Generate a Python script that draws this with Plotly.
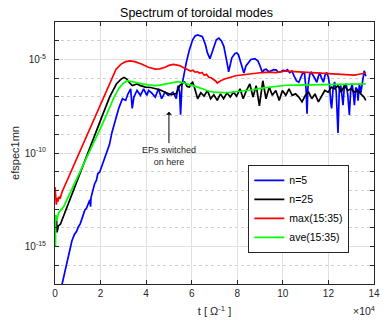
import plotly.graph_objects as go

# time in units of 1e4 Omega^-1 ; values as log10(efspec1mn)
t_n5 = [0.2, 0.31, 0.38, 0.45, 0.52, 0.6, 0.67, 0.74, 0.85, 0.95, 1.02, 1.1, 1.17, 1.25, 1.31, 1.38,
        1.45, 1.5, 1.53, 1.56, 1.58, 1.65, 1.74, 1.82, 1.88, 1.96, 2.05, 2.17, 2.28, 2.39, 2.5, 2.6,
        2.68, 2.8, 2.96, 3.1, 3.2, 3.32, 3.39, 3.46, 3.6, 3.75, 3.89, 4.03, 4.11, 4.25, 4.4, 4.54,
        4.68, 4.83, 4.97, 5.18, 5.32, 5.4, 5.47, 5.51, 5.57, 5.65, 5.76, 5.9, 6.04, 6.15, 6.26, 6.47,
        6.6, 6.69, 6.8, 6.9, 6.98, 7.08, 7.19, 7.3, 7.41, 7.5, 7.55, 7.62, 7.7, 7.76, 7.9, 7.98,
        8.05, 8.12, 8.22, 8.29, 8.38, 8.48, 8.6, 8.77, 8.91, 9.0, 9.1, 9.18, 9.27, 9.38, 9.48, 9.6,
        9.7, 9.8, 9.91, 10.0, 10.13, 10.2, 10.3, 10.4, 10.5, 10.6, 10.7, 10.8, 10.88, 10.95, 11.02,
        11.06, 11.1, 11.18, 11.25, 11.35, 11.42, 11.49, 11.56, 11.62, 11.7, 11.78, 11.85, 11.92,
        12.0, 12.05, 12.1, 12.14, 12.2, 12.27, 12.34, 12.42, 12.48, 12.54, 12.6, 12.64, 12.7, 12.78,
        12.85, 12.92, 12.98, 13.04, 13.1, 13.14, 13.2, 13.26, 13.3, 13.36, 13.42, 13.48, 13.53,
        13.57, 13.64]
n5_log = [-17.6, -17.0, -16.5, -16.27, -15.9, -15.3, -15.05, -14.7, -14.35, -14.18, -13.95, -13.8,
          -13.56, -13.3, -13.04, -12.95, -12.7, -12.6, -12.5, -12.87, -12.4, -12.05, -11.64, -11.45,
          -11.1, -11.03, -10.7, -10.24, -9.9, -9.55, -8.9, -8.5, -8.1, -7.6, -7.1, -7.19, -6.85,
          -6.57, -7.62, -7.01, -6.66, -6.92, -6.57, -6.92, -6.66, -6.8, -7.01, -6.57, -7.1, -6.75,
          -6.92, -6.75, -7.1, -6.4, -6.75, -7.95, -6.4, -5.8, -5.17, -4.48, -3.95, -3.75, -3.69,
          -3.78, -4.2, -4.65, -4.96, -4.6, -4.3, -3.95, -3.86, -4.0, -4.3, -4.8, -5.17, -5.66, -5.2,
          -4.91, -4.68, -4.65, -4.75, -5.0, -5.4, -5.73, -5.35, -5.17, -5.0, -4.96, -5.09, -5.35,
          -5.7, -5.55, -5.52, -5.66, -5.61, -5.55, -5.56, -5.68, -5.66, -5.58, -5.61, -5.55, -5.7,
          -5.62, -5.9, -6.15, -6.22, -5.95, -5.7, -5.75, -6.6, -7.9, -6.5, -5.8, -5.7, -5.9, -6.1,
          -6.22, -5.9, -5.72, -6.0, -6.22, -5.85, -5.7, -5.95, -6.4, -7.3, -7.62, -6.6, -6.2, -6.7,
          -8.93, -6.5, -6.4, -7.0, -7.45, -6.4, -6.3, -6.9, -7.97, -6.6, -6.3, -6.9, -7.45, -6.5,
          -6.6, -7.2, -6.3, -6.8, -6.2, -5.8, -5.61, -5.9]

t_n25 = [0.07, 0.09, 0.15, 0.24, 2.03, 2.4, 2.7, 2.9, 3.03, 3.15, 3.25, 3.39, 3.5, 3.6, 3.75, 3.97,
         4.2, 4.4, 4.6, 4.83, 5.0, 5.11, 5.2, 5.32, 5.4, 5.47, 5.57, 5.69, 5.8, 5.9, 5.97, 6.04,
         6.12, 6.26, 6.4, 6.54, 6.69, 6.83, 6.97, 7.12, 7.26, 7.4, 7.55, 7.69, 7.83, 7.97, 8.12,
         8.26, 8.4, 8.55, 8.69, 8.83, 8.97, 9.12, 9.26, 9.4, 9.54, 9.69, 9.84, 9.98, 10.13, 10.27,
         10.41, 10.56, 10.7, 10.84, 10.99, 11.13, 11.27, 11.41, 11.56, 11.7, 11.84, 11.99, 12.13,
         12.27, 12.42, 12.56, 12.7, 12.85, 12.99, 13.13, 13.28, 13.42, 13.56, 13.64]
n25_log = [-13.6, -14.24, -13.9, -13.8, -8.15, -7.0, -6.3, -6.05, -5.96, -6.05, -6.22, -6.4, -6.35,
           -6.31, -6.4, -6.48, -6.5, -6.54, -6.62, -6.75, -6.85, -6.89, -6.85, -6.83, -6.6, -6.4,
           -6.3, -6.22, -6.45, -6.48, -6.3, -6.22, -6.5, -7.1, -6.78, -6.96, -6.66, -7.1, -6.89,
           -7.19, -6.84, -7.1, -6.78, -7.01, -6.75, -6.96, -6.57, -7.1, -6.66, -6.31, -7.01, -6.4,
           -7.48, -6.14, -7.1, -6.48, -6.92, -6.66, -7.19, -6.66, -6.92, -6.57, -6.92, -6.84, -7.01,
           -7.27, -6.92, -6.75, -7.1, -6.84, -7.27, -6.92, -6.66, -6.75, -6.48, -6.57, -6.4, -6.75,
           -6.4, -6.66, -6.57, -6.75, -6.66, -6.84, -7.01, -7.19]

t_max = [0.0, 0.06, 0.1, 0.13, 0.16, 0.22, 0.31, 2.4, 2.68, 2.9, 3.1, 3.3, 3.5, 3.82, 4.1, 4.4,
         4.6, 4.83, 5.0, 5.2, 5.47, 5.65, 5.83, 5.95, 6.05, 6.15, 6.26, 6.35, 6.45, 6.55, 6.65,
         6.75, 6.85, 6.95, 7.05, 7.12, 7.2, 7.3, 7.41, 7.55, 7.69, 7.85, 8.0, 8.12, 8.3, 8.5, 8.7,
         8.9, 9.1, 9.41, 9.7, 10.13, 10.42, 10.8, 11.13, 11.5, 11.85, 12.2, 12.57, 12.9, 13.14,
         13.4, 13.64]
max_log = [-11.82, -12.76, -12.4, -12.6, -12.34, -12.45, -12.08, -6.3, -5.52, -5.25, -5.12, -5.08,
           -5.12, -5.26, -5.42, -5.52, -5.5, -5.42, -5.32, -5.27, -5.33, -5.45, -5.55, -5.62,
           -5.58, -5.68, -5.66, -5.74, -5.7, -5.85, -5.8, -5.95, -5.98, -6.05, -6.15, -6.26, -6.18,
           -6.12, -6.06, -6.0, -5.95, -5.9, -5.86, -5.84, -5.82, -5.76, -5.73, -5.72, -5.7, -5.68,
           -5.7, -5.62, -5.64, -5.66, -5.7, -5.72, -5.74, -5.74, -5.78, -5.8, -5.84, -5.78, -5.73]

t_ave = [0.02, 0.03, 0.08, 0.16, 0.25, 0.38, 2.14, 2.6, 2.8, 3.0, 3.18, 3.39, 3.6, 3.82, 4.1, 4.4,
         4.6, 4.83, 5.1, 5.4, 5.6, 5.83, 6.05, 6.26, 6.5, 6.75, 6.98, 7.25, 7.55, 7.85, 8.12, 8.4,
         8.7, 9.0, 9.41, 9.7, 10.13, 10.6, 11.13, 11.8, 12.5, 13.1, 13.64]
ave_log = [-14.97, -13.3, -13.6, -13.2, -13.05, -12.87, -8.3, -7.0, -6.55, -6.27, -6.14, -6.2,
           -6.27, -6.31, -6.36, -6.4, -6.37, -6.31, -6.23, -6.19, -6.24, -6.31, -6.4, -6.48, -6.58,
           -6.7, -6.75, -6.78, -6.78, -6.74, -6.71, -6.66, -6.62, -6.55, -6.48, -6.44, -6.38, -6.37,
           -6.36, -6.35, -6.34, -6.33, -6.31]

series = [
    ("n=5", t_n5, n5_log, "#0000ff"),
    ("n=25", t_n25, n25_log, "#000000"),
    ("max(15:35)", t_max, max_log, "#ff0000"),
    ("ave(15:35)", t_ave, ave_log, "#00ff00"),
]

y_major = [-15, -10, -5]
y_major_text = ["10<sup>-15</sup>", "10<sup>-10</sup>", "10<sup>-5</sup>"]
y_minor = list(range(-17, -2))
x_ticks = [0, 2, 4, 6, 8, 10, 12, 14]

fig = go.Figure()
for name, t, lg, col in series:
    fig.add_trace(go.Scatter(x=t, y=[10 ** v for v in lg], mode="lines", name=name,
                             line=dict(color=col, width=1.7)))

axcol = "#262626"
font = "Liberation Sans, Arial, sans-serif"
fig.update_layout(
    width=389, height=325,
    margin=dict(l=55, r=9, t=22, b=36),
    paper_bgcolor="white", plot_bgcolor="white",
    font=dict(family=font, size=10, color=axcol),
    title=dict(text="Spectrum of toroidal modes", x=196.5 / 389, xref="container",
               xanchor="center", y=0.96, yref="container", yanchor="middle",
               font=dict(size=12.5, color="#000000")),
    showlegend=True,
    legend=dict(x=0.606, y=0.455, xanchor="left", yanchor="top", bgcolor="white",
                bordercolor=axcol, borderwidth=1, font=dict(size=10.5, color="#000000")),
)
fig.update_xaxes(range=[0, 14], tickvals=x_ticks, ticktext=[str(v) for v in x_ticks],
                 showline=True, linecolor=axcol, linewidth=1, mirror="ticks",
                 ticks="inside", ticklen=4, tickcolor=axcol,
                 showgrid=True, gridcolor="#e0e0e0", gridwidth=1, zeroline=False,
                 title=dict(text="t [ \u03a9<sup>-1</sup> ]", font=dict(size=11), standoff=9))
fig.update_yaxes(type="log", range=[-17, -3], tickvals=[10 ** v for v in y_major],
                 ticktext=y_major_text,
                 showline=True, linecolor=axcol, linewidth=1, mirror="ticks",
                 ticks="inside", ticklen=4, tickcolor=axcol, ticklabelstandoff=6,
                 showgrid=True, gridcolor="#e0e0e0", gridwidth=1, zeroline=False,
                 minor=dict(tickvals=[10 ** v for v in y_minor], ticks="inside", ticklen=4,
                            tickcolor=axcol, showgrid=True, gridcolor="#cfcfcf",
                            griddash="dot", gridwidth=1),
                 title=dict(text="efspec1mn", font=dict(size=11), standoff=2))

fig.add_annotation(x=5.0, y=-7.8, ax=5.0, ay=-10.14, xref="x", yref="y", axref="x", ayref="y",
                   text="EPs switched<br>on here", showarrow=True, arrowhead=1, arrowsize=1,
                   arrowwidth=1, arrowcolor="#000000", font=dict(size=9, color="#262626"),
                   align="center")
fig.add_annotation(x=1.01, y=-0.1, xref="paper", yref="paper", xanchor="right",
                   yanchor="middle", text="\u00d710<sup>4</sup>", showarrow=False,
                   font=dict(size=10.5, color=axcol))

fig.write_html("out.html")
